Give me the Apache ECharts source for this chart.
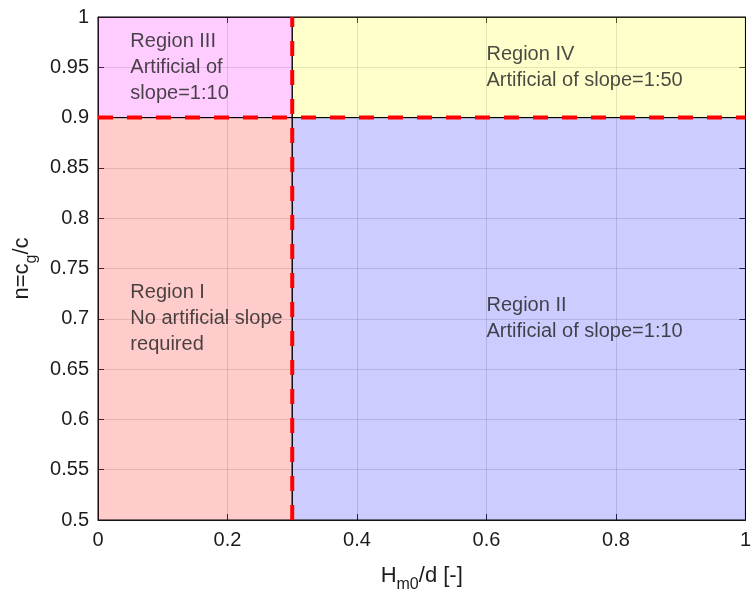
<!DOCTYPE html>
<html>
<head>
<meta charset="utf-8">
<script src="https://cdn.jsdelivr.net/npm/echarts@6/dist/echarts.min.js"></script>
<style>html,body{margin:0;padding:0;background:#fff}#c{width:754px;height:598px}</style>
</head>
<body>
<div id="c"></div>
<script>
// ---- data ----
const xTicks = [0, 0.2, 0.4, 0.6, 0.8, 1];
const yTicks = [0.5, 0.55, 0.6, 0.65, 0.7, 0.75, 0.8, 0.85, 0.9, 0.95, 1];
const regionNames = ['Region I', 'Region II', 'Region III', 'Region IV'];
const regionNotes = ['No artificial slope\nrequired', 'Artificial of slope=1:10', 'Artificial of\nslope=1:10', 'Artificial of slope=1:50'];
const regionXFrom = [0, 0.3, 0, 0.3];
const regionXTo = [0.3, 1, 0.3, 1];
const regionYFrom = [0.5, 0.5, 0.9, 0.9];
const regionYTo = [0.9, 0.9, 1, 1];
const labelX = [0.05, 0.6, 0.05, 0.6];
const labelY = [0.7, 0.7, 0.95, 0.95];
const hBoundary = [[0, 0.9], [1, 0.9]];
const vBoundary = [[0.3, 0.5], [0.3, 1]];

// ---- style ----
const regionColors = ['rgba(255,0,0,0.2)', 'rgba(0,0,255,0.2)', 'rgba(255,0,255,0.2)', 'rgba(255,255,0,0.2)'];
const FONT = '"Liberation Sans", Arial, Helvetica, sans-serif';
const TXT = '#1c1c1c';

const chart = echarts.init(document.getElementById('c'), null, {renderer: 'canvas'});
const fmt = v => String(+v.toFixed(2));

const patchData = regionNames.map((n, i) => [regionXFrom[i], regionXTo[i], regionYFrom[i], regionYTo[i], i]);
const labelData = regionNames.map((n, i) => ({value: [labelX[i], labelY[i]], name: n, note: regionNotes[i]}));

const axisCommon = {
  type: 'value',
  axisLine: {show: true, onZero: false, lineStyle: {color: '#262626', width: 1}},
  axisTick: {show: true, inside: true, length: 6, lineStyle: {color: '#262626'}},
};

chart.setOption({
  animation: false,
  textStyle: {fontFamily: FONT},
  grid: {left: 98, right: 6, top: 17, bottom: 75, containLabel: false},
  xAxis: [
    Object.assign({}, axisCommon, {
      min: xTicks[0], max: xTicks[xTicks.length - 1], interval: 0.2,
      axisLabel: {color: TXT, fontSize: 20, margin: 10, formatter: fmt, fontFamily: FONT},
      splitLine: {show: true, lineStyle: {color: 'rgba(0,0,0,0.13)', width: 1}},
      name: '{a|H}{b|m0}{a|/d [-]}',
      nameLocation: 'middle', nameGap: 39,
      nameTextStyle: {
        rich: {
          a: {fontSize: 22, color: TXT, fontFamily: FONT, lineHeight: 34, verticalAlign: 'middle'},
          b: {fontSize: 16, color: TXT, fontFamily: FONT, lineHeight: 34, verticalAlign: 'bottom'}
        }
      }
    }),
    Object.assign({}, axisCommon, {
      position: 'top', min: 0, max: 1, interval: 0.2,
      axisLabel: {show: false}, splitLine: {show: false}
    })
  ],
  yAxis: [
    Object.assign({}, axisCommon, {
      min: yTicks[0], max: yTicks[yTicks.length - 1], interval: 0.05,
      axisLabel: {color: TXT, fontSize: 20, margin: 9, formatter: fmt, fontFamily: FONT},
      splitLine: {show: true, lineStyle: {color: 'rgba(0,0,0,0.13)', width: 1}},
      name: '{a|n=c}{b|g}{a|/c}',
      nameLocation: 'middle', nameGap: 52, nameRotate: 90,
      nameTextStyle: {
        rich: {
          a: {fontSize: 22, color: TXT, fontFamily: FONT, lineHeight: 34, verticalAlign: 'middle'},
          b: {fontSize: 16, color: TXT, fontFamily: FONT, lineHeight: 34, verticalAlign: 'bottom'}
        }
      }
    }),
    Object.assign({}, axisCommon, {
      position: 'right', min: 0.5, max: 1, interval: 0.05,
      axisLabel: {show: false}, splitLine: {show: false}
    })
  ],
  series: [
    {
      type: 'custom',
      xAxisIndex: 0, yAxisIndex: 0,
      data: patchData,
      z: 1,
      renderItem: function (params, api) {
        const p0 = api.coord([api.value(0), api.value(3)]);
        const p1 = api.coord([api.value(1), api.value(2)]);
        const idx = api.value(4);
        return {
          type: 'rect',
          shape: {x: p0[0], y: p0[1], width: p1[0] - p0[0], height: p1[1] - p0[1]},
          style: {fill: regionColors[idx], stroke: '#000', lineWidth: 1}
        };
      }
    },
    {
      type: 'line', data: hBoundary, symbol: 'none', z: 5,
      lineStyle: {color: '#ff0000', width: 4, type: [15, 14]}
    },
    {
      type: 'line', data: vBoundary, symbol: 'none', z: 5,
      lineStyle: {color: '#ff0000', width: 4, type: [15, 14]}
    },
    {
      type: 'scatter', data: labelData, symbolSize: 0, z: 6,
      label: {
        show: true, position: 'right', distance: 0,
        color: TXT, fontSize: 20, lineHeight: 26, fontFamily: FONT,
        align: 'left', verticalAlign: 'middle',
        formatter: p => p.data.name + '\n' + p.data.note
      }
    }
  ]
});
</script>
</body>
</html>
